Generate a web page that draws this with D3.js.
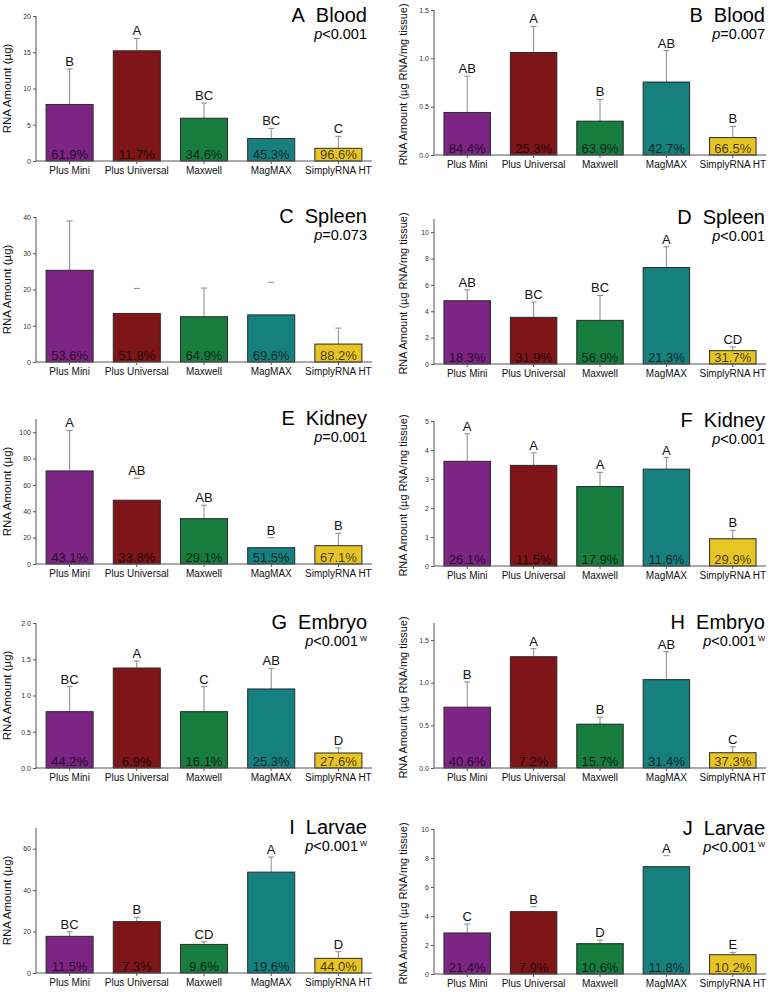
<!DOCTYPE html>
<html>
<head>
<meta charset="utf-8">
<script src="https://cdn.jsdelivr.net/npm/d3@7"></script>
<style>
  html, body { margin: 0; padding: 0; background: #fff; }
  svg { display: block; }
  text { font-family: "Liberation Sans", Arial, sans-serif; }
</style>
</head>
<body>
<svg id="chart" width="772" height="992"></svg>
<script>
// ---------- data ----------
const categories = ["Plus Mini", "Plus Universal", "Maxwell", "MagMAX", "SimplyRNA HT"];
const barColors = ["#7d2585", "#7d1519", "#177d3f", "#16807e", "#e6c524"];

const meanA = [7.8, 15.2, 5.9, 3.1, 1.75];
const sdA = [4.9, 1.7, 2.1, 1.4, 1.65];
const lettersA = ["B", "A", "BC", "BC", "C"];
const pctA = ["61.9%", "11.7%", "34.6%", "45.3%", "96.6%"];

const meanB = [0.44, 1.06, 0.35, 0.755, 0.18];
const sdB = [0.375, 0.27, 0.225, 0.325, 0.115];
const lettersB = ["AB", "A", "B", "AB", "B"];
const pctB = ["84.4%", "25.3%", "63.9%", "42.7%", "66.5%"];

const meanC = [25.3, 13.4, 12.5, 13.0, 4.95];
const sdC = [13.6, 6.9, 7.9, 9.0, 4.4];
const lettersC = ["", "", "", "", ""];
const pctC = ["53.6%", "51.8%", "64.9%", "69.6%", "88.2%"];

const meanD = [4.80, 3.54, 3.31, 7.32, 1.01];
const sdD = [0.83, 1.16, 1.89, 1.57, 0.28];
const lettersD = ["AB", "BC", "BC", "A", "CD"];
const pctD = ["18.3%", "31.9%", "56.9%", "21.3%", "31.7%"];

const meanE = [70.6, 48.4, 34.4, 12.4, 13.9];
const sdE = [30.7, 16.7, 10.2, 7.6, 9.4];
const lettersE = ["A", "AB", "AB", "B", "B"];
const pctE = ["43.1%", "33.8%", "29.1%", "51.5%", "67.1%"];

const meanF = [3.61, 3.47, 2.74, 3.34, 0.94];
const sdF = [0.95, 0.43, 0.49, 0.40, 0.29];
const lettersF = ["A", "A", "A", "A", "B"];
const pctF = ["26.1%", "11.5%", "17.9%", "11.6%", "29.9%"];

const meanG = [0.777, 1.379, 0.777, 1.09, 0.207];
const sdG = [0.345, 0.097, 0.345, 0.285, 0.069];
const lettersG = ["BC", "A", "C", "AB", "D"];
const pctG = ["44.2%", "6.9%", "16.1%", "25.3%", "27.6%"];

const meanH = [0.713, 1.305, 0.514, 1.036, 0.179];
const sdH = [0.296, 0.094, 0.082, 0.328, 0.07];
const lettersH = ["B", "A", "B", "AB", "C"];
const pctH = ["40.6%", "7.2%", "15.7%", "31.4%", "37.3%"];

const meanI = [17.7, 24.8, 13.8, 48.7, 7.08];
const sdI = [2.2, 2.1, 1.3, 7.3, 3.2];
const lettersI = ["BC", "B", "CD", "A", "D"];
const pctI = ["11.5%", "7.3%", "9.6%", "19.6%", "44.0%"];

const meanJ = [2.83, 4.30, 2.09, 7.40, 1.33];
const sdJ = [0.62, 0.34, 0.25, 0.76, 0.16];
const lettersJ = ["C", "B", "D", "A", "E"];
const pctJ = ["21.4%", "7.9%", "10.6%", "11.8%", "10.2%"];

// error bars whose vertical stem is not visible in the original (cap only)
const capOnlyC = [1, 3];
const capOnlyE = [1, 3];
const capOnlyJ = [1, 3];

const ticksA = [0, 5, 10, 15, 20];
const ticksB = [0, 0.5, 1.0, 1.5];
const ticksC = [0, 10, 20, 30, 40];
const ticksD = [0, 2, 4, 6, 8, 10];
const ticksE = [0, 20, 40, 60, 80, 100];
const ticksF = [0, 1, 2, 3, 4, 5];
const ticksG = [0, 0.5, 1.0, 1.5, 2.0];
const ticksH = [0, 0.5, 1.0, 1.5];
const ticksI = [0, 20, 40, 60];
const ticksJ = [0, 2, 4, 6, 8, 10];

const yLabelLeft = "RNA Amount (\u00b5g)";
const yLabelRight = "RNA Amount (\u00b5g RNA/mg tissue)";

// ---------- panel assembly ----------
const panels = [
  {id:"A", tissue:"Blood",  p:"<0.001", w:false, mean:meanA, sd:sdA, letters:lettersA, pct:pctA, ticks:ticksA, fmt:"d",   max:20,  col:0, zeroY:161, tOff:0, capOnly:[]},
  {id:"B", tissue:"Blood",  p:"=0.007", w:false, mean:meanB, sd:sdB, letters:lettersB, pct:pctB, ticks:ticksB, fmt:".1f", max:1.5, col:1, zeroY:155, tOff:6, capOnly:[]},
  {id:"C", tissue:"Spleen", p:"=0.073", w:false, mean:meanC, sd:sdC, letters:lettersC, pct:pctC, ticks:ticksC, fmt:"d",   max:40,  col:0, zeroY:362, tOff:0, capOnly:capOnlyC},
  {id:"D", tissue:"Spleen", p:"<0.001", w:false, mean:meanD, sd:sdD, letters:lettersD, pct:pctD, ticks:ticksD, fmt:"d",   max:11,  col:1, zeroY:364, tOff:-1, capOnly:[]},
  {id:"E", tissue:"Kidney", p:"=0.001", w:false, mean:meanE, sd:sdE, letters:lettersE, pct:pctE, ticks:ticksE, fmt:"d",   max:110, col:0, zeroY:564, tOff:0, capOnly:capOnlyE},
  {id:"F", tissue:"Kidney", p:"<0.001", w:false, mean:meanF, sd:sdF, letters:lettersF, pct:pctF, ticks:ticksF, fmt:"d",   max:5,   col:1, zeroY:566, tOff:0, capOnly:[]},
  {id:"G", tissue:"Embryo", p:"<0.001", w:true,  mean:meanG, sd:sdG, letters:lettersG, pct:pctG, ticks:ticksG, fmt:".1f", max:2.0, col:0, zeroY:768, tOff:0, capOnly:[]},
  {id:"H", tissue:"Embryo", p:"<0.001", w:true,  mean:meanH, sd:sdH, letters:lettersH, pct:pctH, ticks:ticksH, fmt:".1f", max:1.7, col:1, zeroY:768, tOff:0, capOnly:[]},
  {id:"I", tissue:"Larvae", p:"<0.001", w:true,  mean:meanI, sd:sdI, letters:lettersI, pct:pctI, ticks:ticksI, fmt:"d",   max:70,  col:0, zeroY:973, tOff:0, capOnly:[]},
  {id:"J", tissue:"Larvae", p:"<0.001", w:true,  mean:meanJ, sd:sdJ, letters:lettersJ, pct:pctJ, ticks:ticksJ, fmt:"d",   max:10,  col:1, zeroY:974, tOff:0, capOnly:capOnlyJ}
];

const colLayout = [
  {axisX: 36,  xEnd: 372, labelX: 11,  titleX: 367, label: yLabelLeft,  labelSize: 11.5},
  {axisX: 434, xEnd: 766, labelX: 407, titleX: 765, label: yLabelRight, labelSize: 11}
];
const plotH = 145;
const axisColor = "#555";

const svg = d3.select("#chart");

panels.forEach(P => {
  const L = colLayout[P.col];
  const g = svg.append("g");
  const x = d3.scaleBand().domain(categories).range([L.axisX, L.xEnd]).paddingInner(0.3).paddingOuter(0.15);
  const y = d3.scaleLinear().domain([0, P.max]).range([P.zeroY, P.zeroY - plotH]);

  const rows = categories.map((c, i) => ({c, i, m: P.mean[i], s: P.sd[i], letter: P.letters[i], pct: P.pct[i], cap: P.capOnly.includes(i)}));

  // error bars (drawn behind bars)
  const eb = g.append("g").attr("stroke", "#8a8a8a").attr("stroke-width", 1);
  rows.forEach(d => {
    const cx = x(d.c) + x.bandwidth() / 2;
    if (!d.cap) {
      eb.append("line").attr("x1", cx).attr("x2", cx).attr("y1", y(d.m)).attr("y2", y(d.m + d.s));
    }
    eb.append("line").attr("x1", cx - 3).attr("x2", cx + 3).attr("y1", y(d.m + d.s)).attr("y2", y(d.m + d.s));
  });

  // bars
  g.append("g").selectAll("rect").data(rows).join("rect")
    .attr("x", d => x(d.c))
    .attr("y", d => y(d.m))
    .attr("width", x.bandwidth())
    .attr("height", d => y(0) - y(d.m))
    .attr("fill", d => barColors[d.i])
    .attr("stroke", "#2a2a2a")
    .attr("stroke-width", 1);

  // percentages inside bars
  g.append("g").selectAll("text").data(rows).join("text")
    .attr("x", d => x(d.c) + x.bandwidth() / 2)
    .attr("y", y(0) - 2)
    .attr("text-anchor", "middle")
    .attr("font-size", 13)
    .attr("fill", "#000")
    .attr("fill-opacity", 0.72)
    .text(d => d.pct);

  // group letters
  g.append("g").selectAll("text").data(rows.filter(d => d.letter)).join("text")
    .attr("x", d => x(d.c) + x.bandwidth() / 2)
    .attr("y", d => y(d.m + d.s) - 3)
    .attr("text-anchor", "middle")
    .attr("font-size", 13)
    .attr("fill", "#111")
    .text(d => d.letter);

  // y axis
  const yAxis = d3.axisLeft(y).tickValues(P.ticks).tickSize(3).tickPadding(2)
    .tickFormat(d3.format(P.fmt));
  const ya = g.append("g").attr("transform", `translate(${L.axisX},0)`).call(yAxis);
  ya.select(".domain").attr("d", `M0,${y(0)}V${y(P.max)}`);
  ya.selectAll("line, path").attr("stroke", axisColor);
  ya.selectAll("text").attr("font-size", 7).attr("fill", "#333")
    .attr("font-family", "'Liberation Sans', Arial, sans-serif");

  // x axis
  const xAxis = d3.axisBottom(x).tickSize(3).tickPadding(3);
  const xa = g.append("g").attr("transform", `translate(0,${y(0)})`).call(xAxis);
  xa.select(".domain").attr("d", `M${L.axisX},0H${L.xEnd}`);
  xa.selectAll("line, path").attr("stroke", axisColor);
  xa.selectAll("text").attr("font-size", 10).attr("fill", "#111")
    .attr("font-family", "'Liberation Sans', Arial, sans-serif");

  // y label
  g.append("text")
    .attr("transform", `translate(${L.labelX},${P.zeroY - plotH / 2 + (P.col ? 2 : 0)}) rotate(-90)`)
    .attr("text-anchor", "middle")
    .attr("font-size", L.labelSize)
    .attr("fill", "#111")
    .text(L.label);

  // title
  const ty = P.zeroY - 139 + P.tOff;
  g.append("text")
    .attr("x", L.titleX).attr("y", ty)
    .attr("text-anchor", "end")
    .attr("font-size", 20)
    .attr("fill", "#000")
    .text(P.id + "\u00a0 " + P.tissue);

  const pt = g.append("text")
    .attr("x", L.titleX - (P.w ? 9 : 0)).attr("y", ty + 17)
    .attr("text-anchor", "end")
    .attr("font-size", 14.5)
    .attr("fill", "#000");
  pt.append("tspan").attr("font-style", "italic").text("p");
  pt.append("tspan").text(P.p);
  if (P.w) {
    g.append("text")
      .attr("x", L.titleX - 7).attr("y", ty + 12)
      .attr("font-size", 7.5)
      .attr("fill", "#000")
      .text("W");
  }
});
</script>
</body>
</html>
